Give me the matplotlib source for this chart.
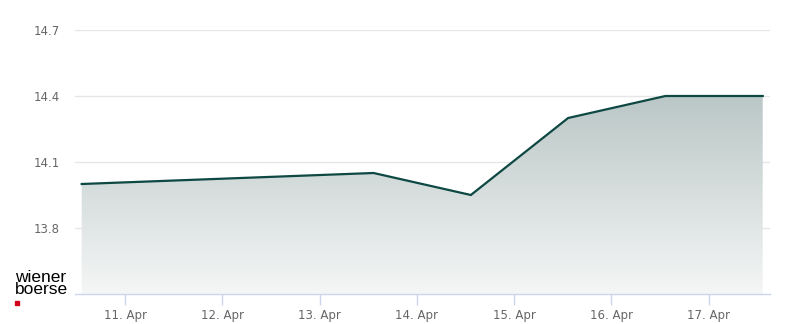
import matplotlib
matplotlib.use("Agg")
import matplotlib.pyplot as plt
import numpy as np
from matplotlib.patches import Polygon, Rectangle
from matplotlib.colors import LinearSegmentedColormap

# Data: trading days (day of April, with intraday fraction) and prices
days = [10.555, 13.555, 14.555, 15.555, 16.555, 17.555]
prices = [14.00, 14.05, 13.95, 14.30, 14.40, 14.40]
tick_days = [11, 12, 13, 14, 15, 16, 17]
tick_labels = ["11. Apr", "12. Apr", "13. Apr", "14. Apr", "15. Apr", "16. Apr", "17. Apr"]
y_ticks = [13.8, 14.1, 14.4, 14.7]
y_labels = ["13.8", "14.1", "14.4", "14.7"]

W, H = 800, 324
fig = plt.figure(figsize=(W / 100, H / 100), dpi=100)
ax = fig.add_axes([75 / W, 30 / H, 695 / W, 264 / H])

xmin, xmax = 10.486, 17.63
ymin, ymax = 13.5, 14.7
ax.set_xlim(xmin, xmax)
ax.set_ylim(ymin, ymax)

# gradient fill under the line
cmap = LinearSegmentedColormap.from_list("g", ["#f5f6f6", "#bac7c6"])
grad = np.linspace(0, 1, 256).reshape(-1, 1)
top = max(prices)
im = ax.imshow(grad, extent=[xmin, xmax, ymin, top], origin="lower",
               cmap=cmap, aspect="auto", zorder=1)
poly_pts = [(days[0], ymin)] + list(zip(days, prices)) + [(days[-1], ymin)]
poly = Polygon(poly_pts, closed=True, facecolor="none", edgecolor="none")
ax.add_patch(poly)
im.set_clip_path(poly)

ax.plot(days, prices, color="#0d4843", lw=1.6, zorder=3, solid_joinstyle="miter")

# grid
for yv in y_ticks:
    ax.axhline(yv, color="#e6e6e6", lw=1, zorder=0)

ax.set_yticks(y_ticks)
ax.set_yticklabels(y_labels)
ax.set_xticks(tick_days)
ax.set_xticklabels(tick_labels)

for s in ["top", "right", "left"]:
    ax.spines[s].set_visible(False)
ax.spines["bottom"].set_color("#ccd6eb")
ax.spines["bottom"].set_linewidth(1)
ax.tick_params(axis="y", length=0, pad=11, labelsize=8.5, labelcolor="#666666")
ax.tick_params(axis="x", length=8, width=1, color="#ccd6eb", pad=3,
               labelsize=8.5, labelcolor="#666666")

# logo
fig.text(15 / W, 1 - 294 / H, "wiener\nboerse", fontsize=12.5, color="#000000",
         va="baseline", ha="left", family="Liberation Sans", linespacing=0.78)
fig.patches.append(Rectangle((15 / W, 1 - 305 / H), 4 / W, 4 / H,
                             transform=fig.transFigure, color="#d0021b"))

fig.savefig("out.png", dpi=100)
